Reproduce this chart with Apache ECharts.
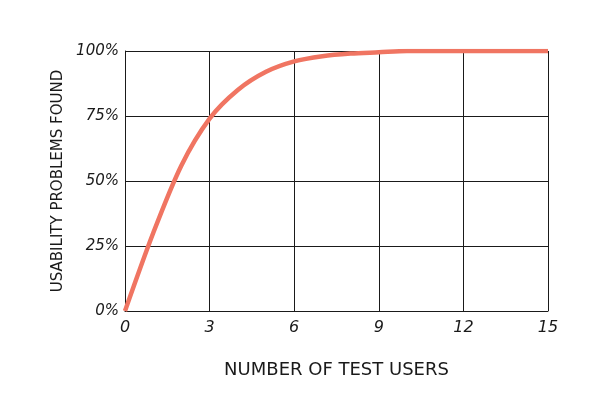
<!DOCTYPE html>
<html>
<head>
<meta charset="utf-8">
<script src="https://cdn.jsdelivr.net/npm/echarts@6/dist/echarts.min.js"></script>
<style>
  html, body { margin: 0; padding: 0; background: #fff; }
  #chart { width: 606px; height: 400px; }
</style>
</head>
<body>
<div id="chart"></div>
<script>
// number of test users (x) and share of usability problems found (%)
var users = [0, 1, 2, 3, 4, 5, 6, 7, 8, 9, 10, 11, 12, 13, 14, 15]
var found = [0, 30, 56, 74, 85, 92, 96, 98, 99, 99.5, 100, 100, 100, 100, 100, 100]
var xTicks = [0, 3, 6, 9, 12, 15]
var yTicks = [0, 25, 50, 75, 100]

var ink = '#1a1a1a'
var font = 'DejaVu Sans'

var chart = echarts.init(document.getElementById('chart'))

chart.setOption({
  animation: false,
  grid: {
    left: 125,
    right: 58,
    top: 51,
    bottom: 89
  },
  xAxis: {
    type: 'value',
    min: 0,
    max: 15,
    interval: 3,
    name: 'NUMBER OF TEST USERS',
    nameLocation: 'middle',
    nameGap: 50,
    nameTextStyle: { color: ink, fontFamily: font, fontSize: 18, fontWeight: 'normal' },
    axisLine: { lineStyle: { color: ink, width: 1 } },
    axisTick: { show: false },
    axisLabel: {
      color: ink, fontFamily: font, fontSize: 16, fontStyle: 'italic', margin: 9,
      formatter: function (v) { return xTicks.indexOf(v) >= 0 ? String(v) : '' }
    },
    splitLine: { show: true, lineStyle: { color: ink, width: 1 } }
  },
  yAxis: {
    type: 'value',
    min: 0,
    max: 100,
    interval: 25,
    name: 'USABILITY PROBLEMS FOUND',
    nameLocation: 'middle',
    nameGap: 38,
    nameRotate: 90,
    nameTextStyle: { color: ink, fontFamily: font, fontSize: 15, fontWeight: 'normal' },
    axisLine: { show: true, lineStyle: { color: ink, width: 1 } },
    axisTick: { show: false },
    axisLabel: {
      color: ink, fontFamily: font, fontSize: 15, fontStyle: 'italic', margin: 6,
      formatter: function (v) { return yTicks.indexOf(v) >= 0 ? v + '%' : '' }
    },
    splitLine: { show: true, lineStyle: { color: ink, width: 1 } }
  },
  series: [{
    type: 'line',
    data: users.map(function (u, i) { return [u, found[i]] }),
    smooth: 0.3,
    symbol: 'none',
    lineStyle: { color: '#f07562', width: 4.5 }
  }]
})
</script>
</body>
</html>
